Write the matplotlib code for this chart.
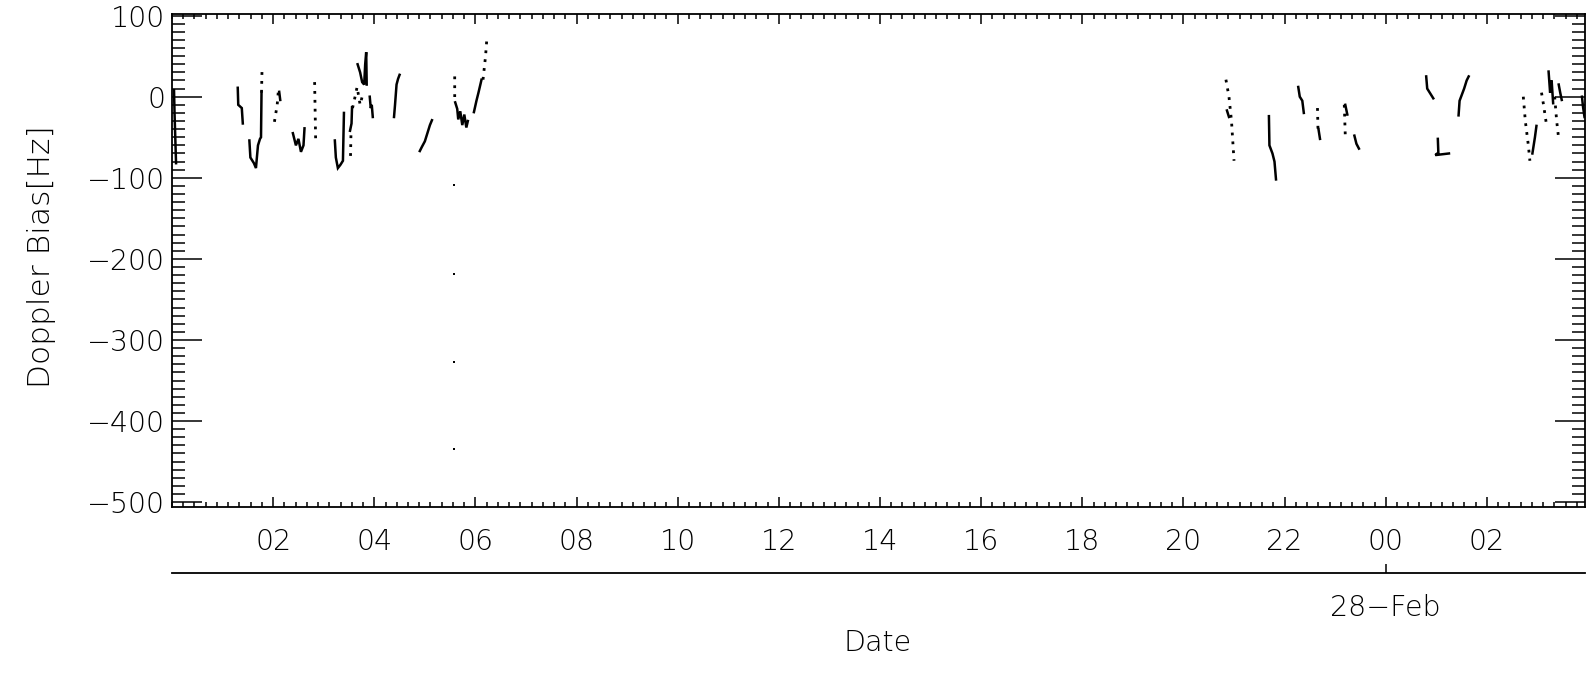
import numpy as np
import matplotlib
matplotlib.use("Agg")
import matplotlib.pyplot as plt
from matplotlib.ticker import MultipleLocator, FixedLocator

# hours since 27-Feb 00:00, Doppler bias in Hz; NaN separates passes
solid_t = [0.04, 0.05, 0.08, np.nan,
           1.30, 1.31, 1.38, 1.40, np.nan,
           1.53, 1.55, 1.62, 1.66, 1.70, 1.74, 1.76, 1.77, np.nan,
           2.12, 2.14, np.nan,
           2.39, 2.45, 2.50, 2.55, 2.60, 2.62, np.nan,
           3.22, 3.24, 3.28, 3.33, 3.38, 3.40, np.nan,
           3.52, 3.55, 3.56, np.nan,
           3.67, 3.72, 3.76, 3.80, 3.82, 3.84, 3.85, np.nan,
           3.91, 3.93, 3.95, 3.97, np.nan,
           4.39, 4.41, 4.44, 4.47, 4.50, np.nan,
           4.90, 4.94, 5.00, 5.05, 5.10, 5.14, np.nan,
           5.60, 5.64, 5.66, 5.70, 5.74, 5.78, 5.82, 5.85, np.nan,
           5.97, 6.02, 6.06, 6.12, np.nan,
           20.86, 20.90, np.nan,
           21.69, 21.70, 21.76, 21.80, 21.83, np.nan,
           22.27, 22.30, 22.35, 22.38, np.nan,
           22.67, 22.70, np.nan,
           23.20, 23.24, np.nan,
           23.38, 23.42, 23.47, np.nan,
           24.80, 24.82, 24.90, 24.94, np.nan,
           25.03, 25.04, 24.98, 25.25, np.nan,
           25.44, 25.46, 25.55, 25.60, 25.64, np.nan,
           26.90, 26.95, 26.98, np.nan,
           27.22, 27.25, 27.28, 27.31, np.nan,
           27.42, 27.45, 27.48, np.nan,
           27.88, 27.90, 27.93]
solid_v = [8, -20, -82, np.nan,
           11, -10, -14, -33, np.nan,
           -54, -75, -82, -88, -60, -52, -50, 5, np.nan,
           6, -4, np.nan,
           -45, -60, -52, -68, -60, -39, np.nan,
           -54, -75, -88, -84, -79, -20, np.nan,
           -42, -33, -13, np.nan,
           40, 30, 18, 15, 40, 55, 15, np.nan,
           0, -14, -10, -25, np.nan,
           -25, -10, 15, 22, 27, np.nan,
           -67, -62, -55, -45, -35, -29, np.nan,
           -7, -15, -28, -18, -35, -22, -38, -30, np.nan,
           -19, -5, 5, 21, np.nan,
           -17, -25, np.nan,
           -24, -60, -70, -80, -102, np.nan,
           12, 0, -5, -20, np.nan,
           -40, -52, np.nan,
           -10, -22, np.nan,
           -48, -58, -64, np.nan,
           25, 10, 2, -2, np.nan,
           -52, -69, -72, -70, np.nan,
           -23, -5, 10, 20, 25, np.nan,
           -70, -50, -36, np.nan,
           31, 5, 20, -8, np.nan,
           15, 5, -4, np.nan,
           0, -12, -25]

dotted_t = [1.77, 1.78, np.nan,
            2.10, 2.08, 2.02, np.nan,
            2.82, 2.84, np.nan,
            3.53, 3.54, np.nan,
            3.57, 3.62, 3.66, 3.72, 3.78, np.nan,
            5.59, 5.59, np.nan,
            6.15, 6.20, 6.23, np.nan,
            20.84, 20.90, 20.95, 21.00, np.nan,
            22.65, 22.66, np.nan,
            23.18, 23.20, np.nan,
            26.72, 26.76, 26.82, 26.85, np.nan,
            27.08, 27.12, 27.17, np.nan,
            27.34, 27.38, 27.42]
dotted_v = [5, 33, np.nan,
            5, -10, -33, np.nan,
            18, -52, np.nan,
            -73, -42, np.nan,
            -14, 0, 12, -10, 5, np.nan,
            25, -7, np.nan,
            21, 50, 75, np.nan,
            21, 0, -30, -79, np.nan,
            -14, -40, np.nan,
            -10, -48, np.nan,
            0, -30, -60, -79, np.nan,
            5, -10, -31, np.nan,
            0, -30, -52]

outlier_t = [5.58, 5.58, 5.58, 5.58]
outlier_v = [-109, -219, -327, -435]

hour_ticks = [2, 4, 6, 8, 10, 12, 14, 16, 18, 20, 22, 24, 26]
hour_labels = ['02', '04', '06', '08', '10', '12', '14', '16', '18', '20', '22', '00', '02']
day_tick = [24]
day_label = ['28\u2212Feb']

x_start, x_end = 0.0, 27.94

W, H = 1589, 675
fig = plt.figure(figsize=(W / 100, H / 100), dpi=100)
plt.rcParams['font.family'] = 'DejaVu Sans'
plt.rcParams['font.weight'] = 'light'
fs = 20.5

ax = fig.add_axes([172 / W, 1 - 507 / H, (1585 - 172) / W, (507 - 14) / H])
ax.plot(solid_t, solid_v, color='black', lw=1.8, solid_joinstyle='miter')
ax.plot(dotted_t, dotted_v, color='black', lw=2.0, linestyle=(0, (1, 2.2)))
ax.plot(outlier_t, outlier_v, 's', color='black', ms=1.6, mew=0)

ax.set_xlim(x_start, x_end)
ax.set_ylim(-506, 102)

ax.yaxis.set_major_locator(MultipleLocator(100))
ax.yaxis.set_minor_locator(MultipleLocator(10))
ax.xaxis.set_major_locator(FixedLocator(hour_ticks))
ax.xaxis.set_minor_locator(MultipleLocator(2 / 9))
ax.set_xticklabels(hour_labels)

ax.tick_params(axis='y', which='major', direction='in', length=21.6, width=1.1,
               left=True, right=True, labelsize=fs, pad=5)
ax.tick_params(axis='y', which='minor', direction='in', length=9.4, width=1.1,
               left=True, right=True)
ax.tick_params(axis='x', which='major', direction='in', length=7.2, width=1.1,
               top=True, bottom=True, labelsize=fs, pad=15)
ax.tick_params(axis='x', which='minor', direction='in', length=3.6, width=1.1,
               top=True, bottom=True)
for s in ax.spines.values():
    s.set_linewidth(1.3)

fig.text(42 / W, 1 - 257 / H, 'Doppler Bias[Hz]', rotation=90, fontsize=22.5,
         ha='center', va='center')

# second date axis
ax2 = fig.add_axes([172 / W, 1 - 573 / H, (1585 - 172) / W, 0.001])
ax2.set_xlim(x_start, x_end)
ax2.set_yticks([])
for k in ['top', 'left', 'right']:
    ax2.spines[k].set_visible(False)
ax2.spines['bottom'].set_linewidth(1.3)
ax2.set_facecolor('none')
ax2.set_xticks(day_tick)
ax2.set_xticklabels(day_label)
ax2.tick_params(axis='x', direction='in', length=6.5, width=1.1, labelsize=fs, pad=15)

fig.text(878 / W, 1 - 643 / H, 'Date', fontsize=fs, ha='center', va='center')

fig.savefig('out.png', dpi=100)
